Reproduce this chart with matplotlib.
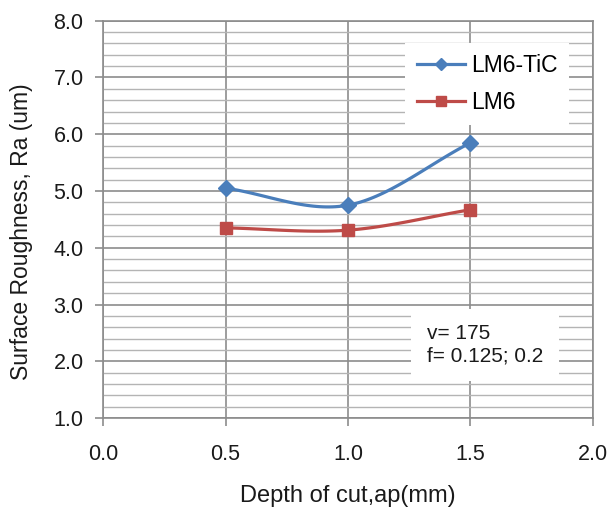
import numpy as np
import matplotlib
matplotlib.use("Agg")
import matplotlib.pyplot as plt
from matplotlib.ticker import MultipleLocator, FormatStrFormatter

plt.rcParams['font.family'] = ['Liberation Sans', 'DejaVu Sans']

depth = [0.5, 1.0, 1.5]
lm6_tic = [5.05, 4.75, 5.85]
lm6 = [4.35, 4.31, 4.67]
series_names = ["LM6-TiC", "LM6"]
annotation = "v= 175\nf= 0.125; 0.2"

def smooth(x, y, n=40):
    # Catmull-Rom curve through the data points (Excel-style smoothed line)
    x = np.asarray(x, float); y = np.asarray(y, float)
    px = np.concatenate([[2*x[0]-x[1]], x, [2*x[-1]-x[-2]]])
    py = np.concatenate([[2*y[0]-y[1]], y, [2*y[-1]-y[-2]]])
    xs, ys = [], []
    t = np.linspace(0, 1, n)
    for i in range(1, len(px)-2):
        p0, p1, p2, p3 = [np.array([px[j], py[j]]) for j in (i-1, i, i+1, i+2)]
        c1 = p1 + (p2 - p0) / 6.0
        c2 = p2 - (p3 - p1) / 6.0
        pts = ((1-t)**3)[:, None]*p1 + (3*(1-t)**2*t)[:, None]*c1 + (3*(1-t)*t**2)[:, None]*c2 + (t**3)[:, None]*p2
        xs.extend(pts[:, 0]); ys.extend(pts[:, 1])
    return xs, ys

fig = plt.figure(figsize=(6.11, 5.15), dpi=100)
ax = fig.add_axes([0.1686, 0.1883, 0.8019, 0.7715])

blue = '#4A7EBB'
red = '#BE4B48'
txt = '#1a1a1a'

ax.set_xlim(0, 2.0)
ax.set_ylim(1.0, 8.0)
ax.xaxis.set_major_locator(MultipleLocator(0.5))
ax.yaxis.set_major_locator(MultipleLocator(1.0))
ax.yaxis.set_minor_locator(MultipleLocator(0.2))
ax.xaxis.set_major_formatter(FormatStrFormatter('%.1f'))
ax.yaxis.set_major_formatter(FormatStrFormatter('%.1f'))

ax.grid(which='major', axis='both', color='#8c8c8c', linewidth=1.2)
ax.grid(which='minor', axis='y', color='#b4b4b4', linewidth=1.0)
ax.set_axisbelow(True)
for s in ax.spines.values():
    s.set_color('#8c8c8c')
    s.set_linewidth(1.2)

ax.tick_params(axis='both', which='major', length=6, color='#8c8c8c', width=1.2,
               labelsize=15.5, labelcolor=txt)
ax.tick_params(axis='x', which='major', pad=13)
ax.tick_params(axis='y', which='major', pad=8)
ax.tick_params(axis='y', which='minor', length=0)

sx, sy = smooth(depth, lm6_tic)
ax.plot(sx, sy, color=blue, lw=2.3, zorder=3)
ax.plot(depth, lm6_tic, linestyle='none', marker='D', ms=8, color=blue, zorder=4)
sx, sy = smooth(depth, lm6)
ax.plot(sx, sy, color=red, lw=2.3, zorder=3)
ax.plot(depth, lm6, linestyle='none', marker='s', ms=8, color=red, zorder=4)

# legend handles
h1, = ax.plot([], [], color=blue, lw=2.3, marker='D', ms=6)
h2, = ax.plot([], [], color=red, lw=2.3, marker='s', ms=7)
leg = ax.legend([h1, h2], series_names, loc='upper left', bbox_to_anchor=(0.617, 0.945),
                fontsize=16.5, frameon=True, fancybox=False, edgecolor='white',
                framealpha=1.0, handlelength=2.1, borderpad=0.5, labelspacing=0.6,
                handletextpad=0.25, borderaxespad=0)
leg.get_frame().set_linewidth(0)

ax.text(0.661, 0.133, annotation, transform=ax.transAxes, fontsize=15, color=txt,
        va='bottom', ha='left', linespacing=1.2,
        bbox=dict(facecolor='white', edgecolor='none', boxstyle='square,pad=0.75'), zorder=5)

ax.set_xlabel("Depth of cut,ap(mm)", fontsize=17, color=txt, labelpad=14)
ax.set_ylabel("Surface Roughness, Ra (um)", fontsize=16.5, color=txt, labelpad=15)
ax.yaxis.label.set_y(0.47)

fig.savefig("out.png", dpi=100)
